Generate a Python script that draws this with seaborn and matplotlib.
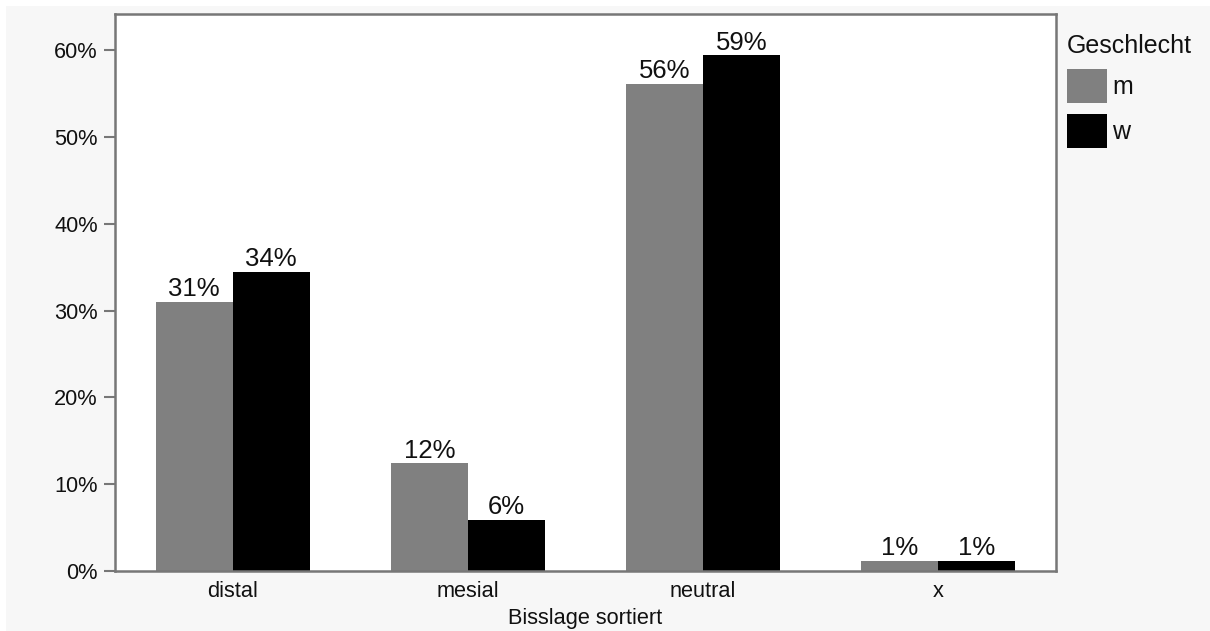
import matplotlib
matplotlib.use("Agg")
import matplotlib.pyplot as plt
import seaborn as sns
import pandas as pd
from matplotlib.patches import Rectangle
from matplotlib.ticker import PercentFormatter

categories = ["distal", "mesial", "neutral", "x"]
share_m = [0.310, 0.124, 0.561, 0.012]
share_w = [0.345, 0.059, 0.594, 0.012]
groups = ["m", "w"]
colors = {"m": "#808080", "w": "#000000"}

df = pd.DataFrame({
    "Bisslage sortiert": categories * 2,
    "Anteil": share_m + share_w,
    "Geschlecht": ["m"] * len(categories) + ["w"] * len(categories),
})

sns.set_theme(style="white")
plt.rcParams["font.family"] = ["Liberation Sans", "DejaVu Sans"]

TICK_FS = 15.7
LABEL_FS = 18.5
LEGEND_FS = 18.0
TEXT_COLOR = "#111111"

fig = plt.figure(figsize=(12.10, 6.31), dpi=100, facecolor="white")
# light panel behind the plot
fig.patches.append(Rectangle((6 / 1210, -0.1), 2, (631 - 6) / 631 + 0.1,
                             transform=fig.transFigure, facecolor="#f7f7f7",
                             edgecolor="none", zorder=-10))
ax = fig.add_axes([115 / 1210, (631 - 571) / 631, (1056 - 115) / 1210, (571 - 14) / 631])
ax.set_facecolor("white")

sns.barplot(data=df, x="Bisslage sortiert", y="Anteil", hue="Geschlecht",
            hue_order=groups, order=categories, palette=colors, width=0.655,
            saturation=1, linewidth=0, ax=ax, legend=False)

for cont in ax.containers:
    ax.bar_label(cont, labels=[f"{v:.0%}" for v in cont.datavalues],
                 padding=0.5, fontsize=LABEL_FS, color=TEXT_COLOR)

ax.set_xlim(-0.5, 3.5)
ax.set_ylim(0, 0.6417)
ax.set_yticks([0, 0.1, 0.2, 0.3, 0.4, 0.5, 0.6])
ax.yaxis.set_major_formatter(PercentFormatter(1.0, decimals=0))
ax.tick_params(axis="y", left=True, length=8, width=1.5, color="#777777",
               labelsize=TICK_FS, labelcolor=TEXT_COLOR, pad=4.5)
ax.tick_params(axis="x", bottom=False, length=0, labelsize=TICK_FS,
               labelcolor=TEXT_COLOR, pad=7)
ax.set_xlabel("Bisslage sortiert", fontsize=TICK_FS, color=TEXT_COLOR, labelpad=4.5)
ax.set_ylabel("")
for s in ax.spines.values():
    s.set_color("#777777")
    s.set_linewidth(1.8)

handles = [Rectangle((0, 0), 1, 1, facecolor=colors[g], edgecolor="none") for g in groups]
leg = fig.legend(handles, groups, title="Geschlecht", loc="upper left",
                 bbox_to_anchor=(1067 / 1210, 1 - 34 / 631), frameon=False,
                 fontsize=LEGEND_FS, title_fontsize=LEGEND_FS, handlelength=1.6,
                 handleheight=1.7, labelspacing=0.45, handletextpad=0.2,
                 borderpad=0, borderaxespad=0)
leg._legend_box.align = "left"
for t in leg.get_texts():
    t.set_color(TEXT_COLOR)
leg.get_title().set_color(TEXT_COLOR)

fig.savefig("out.png", dpi=100, facecolor=fig.get_facecolor())
